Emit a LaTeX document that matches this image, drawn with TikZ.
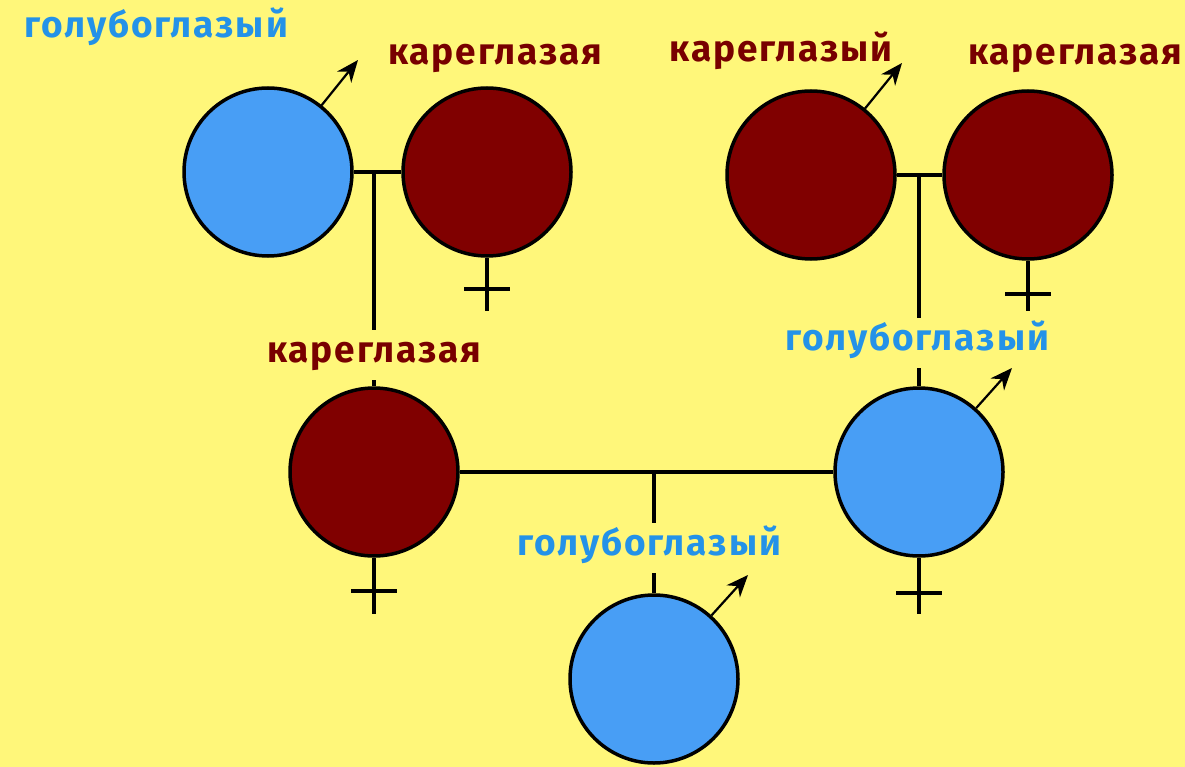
\documentclass[tikz,border=0pt]{standalone}
\usepackage{fontspec}
\setmainfont{Fira Sans}
\newfontfamily\lblfont[LetterSpace=5]{Fira Sans}
\usetikzlibrary{arrows.meta}

\definecolor{paper}{RGB}{255,247,122}
\definecolor{blueeye}{RGB}{72,158,245}
\definecolor{browneye}{RGB}{128,0,0}
\definecolor{bluetext}{RGB}{36,146,232}
\definecolor{browntext}{RGB}{120,0,0}

\tikzset{
  malehead/.tip={Stealth[length=22pt, width=18pt, inset=7pt]}
}

\begin{document}
\begin{tikzpicture}[x=1pt, y=-1pt]
\tikzstyle{b} = [circle, draw=black, line width=3.5pt, minimum size=168pt, fill=blueeye]
\tikzstyle{k} = [circle, draw=black, line width=3.5pt, minimum size=168pt, fill=browneye]
\tikzstyle{e} = [draw=black, line width=3.5pt]
\tikzstyle{m} = [draw=black, line width=2.2pt, arrows={-malehead}]
\tikzstyle{t} = [anchor=base, font=\lblfont\fontsize{37}{40}\selectfont\bfseries, text height=20pt, text depth=6pt, inner xsep=4pt, inner ysep=12pt]
\tikzstyle{tb} = [t, text=bluetext]
\tikzstyle{tk} = [t, text=browntext]

\fill[paper] (0,0) rectangle (1185,767);
\useasboundingbox (0,0) rectangle (1185,767);

% parents
\node[b] (m1) at (268, 172) {};
\node[k] (f1) at (487, 172) {};
\node[k] (m2) at (811, 175) {};
\node[k] (f2) at (1028, 175) {};

% children of the first generation
\node[k] (c1) at (374, 472) {};
\node[b] (c2) at (919, 472) {};

% grandchild
\node[b] (g) at (654, 679) {};

% labels
\node[tb] (lm1) at (156, 38) {голубоглазый};
\node[tk] (lf1) at (495, 65) {кареглазая};
\node[tk] (lm2) at (781, 62) {кареглазый};
\node[tk] (lf2) at (1075, 65) {кареглазая};
\node[tk] (lc1) at (374, 362) {кареглазая};
\node[tb] (lc2) at (917, 350) {голубоглазый};
\node[tb] (lg) at (649, 555) {голубоглазый};

% marriages
\coordinate (u1) at (374, 172);
\coordinate (u2) at (919, 175);
\coordinate (u3) at (654, 472);
\draw[e] (m1) to (f1);
\draw[e] (m2) to (f2);
\draw[e] (c1) to (c2);

% descent
\draw[e] (u1) -- (lc1.north -| u1);
\draw[e] (lc1.south -| u1) -- (c1);
\draw[e] (u2) -- (lc2.north -| u2);
\draw[e] (lc2.south -| u2) -- (c2);
\draw[e] (u3) -- (lg.north -| u3);
\draw[e] (lg.south -| u3) -- (g);

% male signs
\coordinate (a1) at (358, 60);
\coordinate (a2) at (902, 63);
\coordinate (a3) at (1012, 368);
\coordinate (a4) at (748, 575);
\draw[m] (m1) -- (a1);
\draw[m] (m2) -- (a2);
\draw[m] (c2) -- (a3);
\draw[m] (g) -- (a4);

% female signs
\draw[e] (f1.south) -- ++(0,53) ++(-23,-22) -- ++(46,0);
\draw[e] (f2.south) -- ++(0,50) ++(-23,-17) -- ++(46,0);
\draw[e] (c1.south) -- ++(0,56) ++(-23,-23) -- ++(46,0);
\draw[e] (c2.south) -- ++(0,56) ++(-23,-21) -- ++(46,0);
\end{tikzpicture}
\end{document}
